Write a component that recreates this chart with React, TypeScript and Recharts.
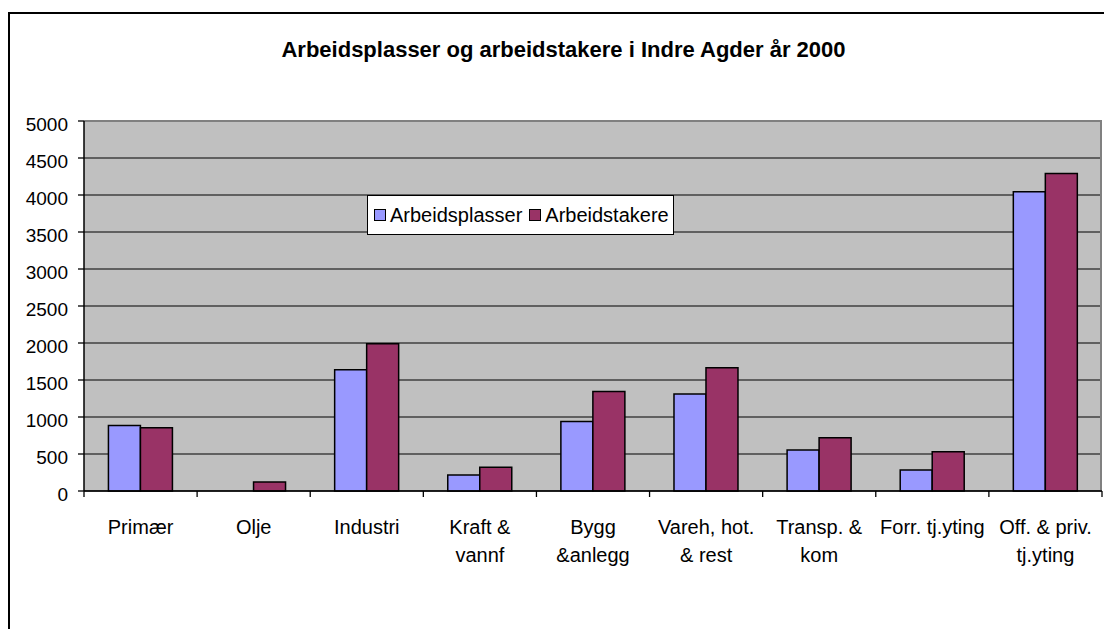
import React from 'react';
import { BarChart, Bar, XAxis, YAxis, CartesianGrid, Legend, ReferenceLine } from 'recharts';

const FONT = '"Liberation Sans", Arial, sans-serif';

const title = 'Arbeidsplasser og arbeidstakere i Indre Agder år 2000';
const categories = [
  'Primær',
  'Olje',
  'Industri',
  'Kraft &\nvannf',
  'Bygg\n&anlegg',
  'Vareh, hot.\n& rest',
  'Transp. &\nkom',
  'Forr. tj.yting',
  'Off. & priv.\ntj.yting',
];
const arbeidsplasser = [885, 0, 1640, 215, 940, 1310, 555, 285, 4045];
const arbeidstakere = [855, 120, 1990, 320, 1345, 1665, 720, 530, 4290];
const yTicks = [0, 500, 1000, 1500, 2000, 2500, 3000, 3500, 4000, 4500, 5000];
const seriesNames = ['Arbeidsplasser', 'Arbeidstakere'];
const seriesColors = ['#9999FF', '#993366'];

const data = categories.map((c, i) => ({
  category: c,
  a: arbeidsplasser[i],
  b: arbeidstakere[i],
}));

const XTick = (props: any) => {
  const { x, y, payload, index, width } = props;
  const bw = Number(width) / categories.length;
  const lines = String(payload.value).split('\n');
  const isLast = index === categories.length - 1;
  return (
    <g>
      <line x1={x - bw / 2} y1={y} x2={x - bw / 2} y2={y + 6} stroke="#000" strokeWidth={1.3} />
      {isLast && <line x1={x + bw / 2} y1={y} x2={x + bw / 2} y2={y + 6} stroke="#000" strokeWidth={1.3} />}
      <text x={x} y={y} textAnchor="middle" fontSize={20} fontFamily={FONT} fill="#000">
        {lines.map((l: string, i: number) => (
          <tspan key={i} x={x} dy={i === 0 ? 43 : 28}>
            {l}
          </tspan>
        ))}
      </text>
    </g>
  );
};

const YTick = (props: any) => {
  const { x, y, payload } = props;
  return (
    <text x={x} y={y} dy={10} textAnchor="end" fontSize={19} fontFamily={FONT} fill="#000">
      {payload.value}
    </text>
  );
};

const LegendBox = (props: any) => {
  const payload = props.payload || [];
  return (
    <div
      style={{
        background: '#fff',
        border: '1px solid #000',
        boxSizing: 'border-box',
        width: 307,
        height: 40,
        display: 'flex',
        alignItems: 'center',
        paddingLeft: 6,
        fontFamily: FONT,
        fontSize: 20,
        color: '#000',
        whiteSpace: 'nowrap',
      }}
    >
      {payload.map((p: any, i: number) => (
        <div key={i} style={{ display: 'flex', alignItems: 'center', marginLeft: i ? 7 : 0 }}>
          <span
            style={{
              display: 'inline-block',
              width: 12,
              height: 12,
              boxSizing: 'border-box',
              border: '1px solid #000',
              background: p.color,
              marginRight: 4,
            }}
          />
          <span>{p.value}</span>
        </div>
      ))}
    </div>
  );
};

const rightEdge = (props: any) => {
  const o = props && props.offset;
  if (o && typeof o.left === 'number' && typeof o.width === 'number') return [o.left + o.width - 1];
  return [];
};

export default function App() {
  return (
    <div>
      <div
        style={{
          position: 'absolute',
          left: 8,
          top: 12,
          width: 1096,
          height: 617,
          boxSizing: 'border-box',
          borderTop: '2px solid #000',
          borderLeft: '2px solid #000',
          background: '#fff',
        }}
      />
      <div
        style={{
          position: 'absolute',
          left: 563.5,
          top: 38.7,
          transform: 'translateX(-50%)',
          fontFamily: FONT,
          fontWeight: 'bold',
          fontSize: 22,
          lineHeight: '22px',
          whiteSpace: 'nowrap',
          color: '#000',
        }}
      >
        {title}
      </div>
      <div style={{ position: 'absolute', left: 0, top: 0 }}>
        <BarChart
          width={1104}
          height={629}
          data={data}
          margin={{ top: 121, right: 2, bottom: 38, left: 14 }}
          barCategoryGap="21.6%"
          barGap={0}
        >
          <CartesianGrid vertical={false} fill="#C0C0C0" stroke="#000" strokeWidth={1} />
          <CartesianGrid
            horizontal={false}
            vertical
            verticalCoordinatesGenerator={rightEdge}
            stroke="#808080"
            strokeWidth={2}
          />
          <XAxis
            dataKey="category"
            interval={0}
            tickLine={false}
            tickSize={0}
            tickMargin={0}
            axisLine={{ stroke: '#000', strokeWidth: 1.5 }}
            tick={<XTick />}
            height={100}
          />
          <YAxis
            type="number"
            domain={[0, 5000]}
            ticks={yTicks}
            interval={0}
            width={70}
            tickSize={6}
            tickMargin={10}
            axisLine={{ stroke: '#000', strokeWidth: 1.5 }}
            tickLine={{ stroke: '#000', strokeWidth: 1.3 }}
            tick={<YTick />}
          />
          <ReferenceLine y={5000} stroke="#808080" strokeWidth={2} />
          <Legend
            layout="horizontal"
            verticalAlign="middle"
            align="center"
            content={<LegendBox />}
            wrapperStyle={{ left: 367, top: 195, width: 'auto' }}
          />
          <Bar
            dataKey="a"
            name={seriesNames[0]}
            fill={seriesColors[0]}
            stroke="#000"
            strokeWidth={1.5}
            isAnimationActive={false}
          />
          <Bar
            dataKey="b"
            name={seriesNames[1]}
            fill={seriesColors[1]}
            stroke="#000"
            strokeWidth={1.5}
            isAnimationActive={false}
          />
        </BarChart>
      </div>
    </div>
  );
}
